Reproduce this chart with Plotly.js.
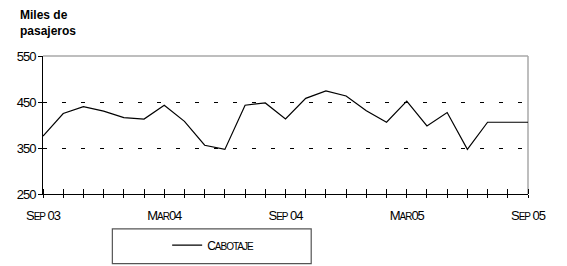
<!DOCTYPE html>
<html>
<head>
<meta charset="utf-8">
<script src="https://cdn.plot.ly/plotly-3.0.1.min.js"></script>
<style>
html,body{margin:0;padding:0;background:#fff;}
#chart{width:567px;height:266px;}
.xtick text, .ytick text, .legendtext {letter-spacing:-1px;}
</style>
</head>
<body>
<div id="chart"></div>
<script>
const months = ["Sep 03","Oct 03","Nov 03","Dec 03","Jan 04","Feb 04","Mar 04","Apr 04","May 04","Jun 04","Jul 04","Aug 04",
  "Sep 04","Oct 04","Nov 04","Dec 04","Jan 05","Feb 05","Mar 05","Apr 05","May 05","Jun 05","Jul 05","Aug 05","Sep 05"];
const cabotaje = [376,425,440,430,416,413,443,408,356,347,443,448,413,458,474,463,431,406,452,398,427,347,406,406,406];
const seriesName = "C<span style='font-size:10px'>ABOTAJE</span>";
const labelledMonths = ["Sep 03","Mar 04","Sep 04","Mar 05","Sep 05"];
const tickLabels = ["S<span style='font-size:10px'>EP</span> 03","M<span style='font-size:10px'>AR</span>04",
  "S<span style='font-size:10px'>EP</span> 04","M<span style='font-size:10px'>AR</span>05","S<span style='font-size:10px'>EP</span> 05"];
const yTicks = [250,350,450,550];

const FONT = "Arial, 'Liberation Sans', sans-serif";

const idx = months.map((m, i) => i);
const ticktext = months.map(m => {
  const k = labelledMonths.indexOf(m);
  return k >= 0 ? tickLabels[k] : '';
});

const data = [{
  x: idx, y: cabotaje, type: 'scatter', mode: 'lines', name: seriesName,
  text: months, line: {color: '#000', width: 1.2}
}];

const layout = {
  width: 567, height: 266,
  margin: {l: 43, r: 39, t: 56, b: 72, autoexpand: false},
  paper_bgcolor: '#fff', plot_bgcolor: '#fff',
  font: {family: FONT, color: '#000', size: 12},
  showlegend: true,
  legend: {x: 0.256, y: -0.37, xanchor: 'left', yanchor: 'middle', orientation: 'h',
    font: {family: FONT, size: 12, color: '#000'}, bgcolor: 'rgba(0,0,0,0)', borderwidth: 0},
  xaxis: {
    type: 'linear', range: [0, months.length - 1], automargin: false,
    tickmode: 'array', tickvals: idx, ticktext: ticktext,
    ticks: 'outside', ticklen: 3, tickcolor: '#000', tickwidth: 1,
    ticklabelstandoff: 6,
    minor: {ticks: 'inside', ticklen: 5, tickcolor: '#000', tickwidth: 1, tick0: 0, dtick: 1, showgrid: false},
    showline: true, linecolor: '#000', linewidth: 1,
    showgrid: false, zeroline: false,
    tickfont: {family: FONT, size: 13, color: '#000'}
  },
  yaxis: {
    range: [250, 550], tickmode: 'array', tickvals: yTicks, automargin: false,
    ticks: 'outside', ticklen: 4, tickcolor: '#000', tickwidth: 1,
    showline: true, linecolor: '#000', linewidth: 1,
    showgrid: true, gridcolor: '#000', gridwidth: 1, griddash: '4px,15px',
    zeroline: false,
    tickfont: {family: FONT, size: 13, color: '#000'}
  },
  shapes: [
    {type: 'line', xref: 'paper', yref: 'paper', x0: 0, x1: 1, y0: 1, y1: 1, line: {color: '#a8a8a8', width: 1.5}, layer: 'below'},
    {type: 'line', xref: 'paper', yref: 'paper', x0: 1, x1: 1, y0: 0, y1: 1, line: {color: '#a8a8a8', width: 1.5}, layer: 'below'},
    {type: 'rect', xref: 'paper', yref: 'paper', x0: 0.143, x1: 0.553, y0: -0.253, y1: -0.505, line: {color: '#555', width: 1.2}}
  ],
  annotations: [{
    xref: 'paper', yref: 'paper', x: -0.052, y: 1.36, xanchor: 'left', yanchor: 'top', align: 'left', showarrow: false,
    text: '<b>Miles de<br>pasajeros</b>', font: {family: FONT, size: 12, color: '#000'}
  }]
};

Plotly.newPlot('chart', data, layout, {staticPlot: true, displayModeBar: false});
</script>
</body>
</html>
